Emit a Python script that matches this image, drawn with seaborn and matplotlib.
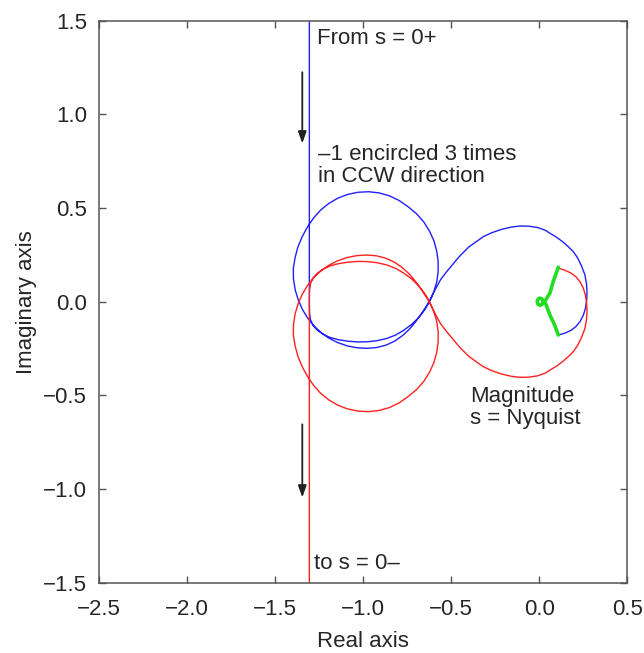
import numpy as np
import pandas as pd
import matplotlib
matplotlib.use("Agg")
import matplotlib.pyplot as plt
import seaborn as sns

# positive frequencies (blue) in path order
blue_x = [-1.305, -1.305, -1.305, -1.304, -1.299, -1.285, -1.262, -1.230, -1.190, -1.140,
          -1.085, -1.030, -0.975, -0.920, -0.865, -0.815, -0.770, -0.725, -0.685, -0.650,
          -0.620, -0.598, -0.582, -0.574, -0.574, -0.582, -0.598, -0.622, -0.655, -0.695,
          -0.742, -0.795, -0.850, -0.910, -0.970, -1.030, -1.090, -1.145, -1.195, -1.240,
          -1.280, -1.315, -1.345, -1.370, -1.386, -1.396, -1.395, -1.385, -1.368, -1.345,
          -1.315, -1.280, -1.240, -1.195, -1.145, -1.090, -1.035, -0.980, -0.925, -0.870,
          -0.820, -0.775, -0.735, -0.700, -0.668, -0.638, -0.612, -0.585, -0.560, -0.530,
          -0.495, -0.450, -0.400, -0.318, -0.270, -0.215, -0.160, -0.110, -0.060, -0.010,
          0.035, 0.061, 0.100, 0.135, 0.165, 0.193, 0.218, 0.240, 0.259, 0.268,
          0.271, 0.269, 0.262, 0.250, 0.232, 0.208, 0.180, 0.145, 0.108]
blue_y = [1.500, 0.500, 0.000, -0.060, -0.095, -0.125, -0.150, -0.172, -0.190, -0.203,
          -0.211, -0.215, -0.214, -0.208, -0.196, -0.178, -0.153, -0.122, -0.085, -0.043,
          0.005, 0.055, 0.105, 0.160, 0.215, 0.270, 0.325, 0.375, 0.425, 0.468,
          0.505, 0.540, 0.565, 0.581, 0.587, 0.584, 0.572, 0.552, 0.524, 0.490,
          0.448, 0.400, 0.348, 0.292, 0.235, 0.178, 0.120, 0.062, 0.010, -0.040,
          -0.087, -0.128, -0.164, -0.194, -0.218, -0.236, -0.246, -0.249, -0.245, -0.232,
          -0.210, -0.180, -0.145, -0.105, -0.063, -0.020, 0.025, 0.075, 0.118, 0.155,
          0.195, 0.245, 0.292, 0.347, 0.368, 0.386, 0.398, 0.404, 0.403, 0.396,
          0.381, 0.365, 0.343, 0.318, 0.293, 0.267, 0.233, 0.190, 0.143, 0.095,
          0.050, 0.009, -0.035, -0.072, -0.105, -0.133, -0.153, -0.168, -0.178]

# negative frequencies (red), the mirror image
red_x = [-1.305, -1.305, -1.305, -1.304, -1.299, -1.285, -1.262, -1.230, -1.190, -1.140,
         -1.085, -1.030, -0.975, -0.920, -0.865, -0.815, -0.770, -0.725, -0.685, -0.650,
         -0.620, -0.598, -0.582, -0.574, -0.574, -0.582, -0.598, -0.622, -0.655, -0.695,
         -0.742, -0.795, -0.850, -0.910, -0.970, -1.030, -1.090, -1.145, -1.195, -1.240,
         -1.280, -1.315, -1.345, -1.370, -1.386, -1.396, -1.395, -1.385, -1.368, -1.345,
         -1.315, -1.280, -1.240, -1.195, -1.145, -1.090, -1.035, -0.980, -0.925, -0.870,
         -0.820, -0.775, -0.735, -0.700, -0.668, -0.638, -0.612, -0.585, -0.560, -0.530,
         -0.495, -0.450, -0.400, -0.318, -0.270, -0.215, -0.160, -0.110, -0.060, -0.010,
         0.035, 0.061, 0.100, 0.135, 0.165, 0.193, 0.218, 0.240, 0.259, 0.268,
         0.271, 0.269, 0.262, 0.250, 0.232, 0.208, 0.180, 0.145, 0.108]
red_y = [-1.500, -0.500, 0.000, 0.060, 0.095, 0.125, 0.150, 0.172, 0.190, 0.203,
         0.211, 0.215, 0.214, 0.208, 0.196, 0.178, 0.153, 0.122, 0.085, 0.043,
         -0.005, -0.055, -0.105, -0.160, -0.215, -0.270, -0.325, -0.375, -0.425, -0.468,
         -0.505, -0.540, -0.565, -0.581, -0.587, -0.584, -0.572, -0.552, -0.524, -0.490,
         -0.448, -0.400, -0.348, -0.292, -0.235, -0.178, -0.120, -0.062, -0.010, 0.040,
         0.087, 0.128, 0.164, 0.194, 0.218, 0.236, 0.246, 0.249, 0.245, 0.232,
         0.210, 0.180, 0.145, 0.105, 0.063, 0.020, -0.025, -0.075, -0.118, -0.155,
         -0.195, -0.245, -0.292, -0.347, -0.368, -0.386, -0.398, -0.404, -0.403, -0.396,
         -0.381, -0.365, -0.343, -0.318, -0.293, -0.267, -0.233, -0.190, -0.143, -0.095,
         -0.050, -0.009, 0.035, 0.072, 0.105, 0.133, 0.153, 0.168, 0.178]

# Nyquist-frequency part (green)
green_x = [0.108, 0.085, 0.060, 0.035, 0.022, 0.015, 0.005, -0.007, -0.012, -0.007,
           0.005, 0.015, 0.022, 0.035, 0.060, 0.080, 0.108]
green_y = [-0.178, -0.120, -0.070, -0.008, -0.004, -0.015, -0.019, -0.014, 0.000, 0.014,
           0.019, 0.015, 0.004, 0.008, 0.045, 0.110, 0.184]

x_ticks = [-2.5, -2.0, -1.5, -1.0, -0.5, 0.0, 0.5]
y_ticks = [-1.5, -1.0, -0.5, 0.0, 0.5, 1.0, 1.5]

sns.set_style("ticks")
plt.rcParams['font.family'] = ['Liberation Sans', 'DejaVu Sans']

fig = plt.figure(figsize=(6.44, 6.53), dpi=100)
ax = fig.add_axes([0.1534, 0.1077, 0.8208, 0.8606])

blue_df = pd.DataFrame({"re": blue_x, "im": blue_y})
red_df = pd.DataFrame({"re": red_x, "im": red_y})
green_df = pd.DataFrame({"re": green_x, "im": green_y})

sns.lineplot(data=blue_df, x="re", y="im", sort=False, estimator=None, color="#2020ff", lw=1.0, ax=ax)
sns.lineplot(data=red_df, x="re", y="im", sort=False, estimator=None, color="#ff2020", lw=1.0, ax=ax)
sns.lineplot(data=green_df, x="re", y="im", sort=False, estimator=None, color="#22dd22", lw=2.6, ax=ax)

# direction arrows
for y0, y1 in [(1.24, 0.83), (-0.64, -1.06)]:
    ax.annotate("", xy=(-1.345, y1), xytext=(-1.345, y0),
                arrowprops=dict(arrowstyle="-|>,head_width=0.25,head_length=0.7", color="#222222", lw=1.3))

fs = 16
ax.text(-1.264, 1.405, "From s = 0+", fontsize=fs, va="center", ha="left")
ax.text(-1.254, 0.728, "–1 encircled 3 times\nin CCW direction", fontsize=fs, va="center", ha="left", linespacing=1.05)
ax.text(-0.393, -0.565, "Magnitude\ns = Nyquist", fontsize=fs, va="center", ha="left", linespacing=1.05)
ax.text(-1.277, -1.40, "to s = 0–", fontsize=fs, va="center", ha="left")

ax.set_xlim(-2.5, 0.5)
ax.set_ylim(-1.5, 1.5)
ax.set_xticks(x_ticks)
ax.set_yticks(y_ticks)
ax.set_xticklabels([f"{v:.1f}".replace("-", "\u2212") for v in x_ticks])
ax.set_yticklabels([f"{v:.1f}".replace("-", "\u2212") for v in y_ticks])
ax.tick_params(direction="in", length=5, width=1, color="#555555", labelsize=16,
               top=True, right=True)
ax.tick_params(axis="x", pad=11.5)
ax.tick_params(axis="y", pad=8.5)
for sp in ax.spines.values():
    sp.set_color("#555555")
    sp.set_linewidth(1.1)
ax.set_xlabel("Real axis", fontsize=16, labelpad=8)
ax.set_ylabel("Imaginary axis", fontsize=16, labelpad=4)

fig.savefig("out.png", dpi=100)
